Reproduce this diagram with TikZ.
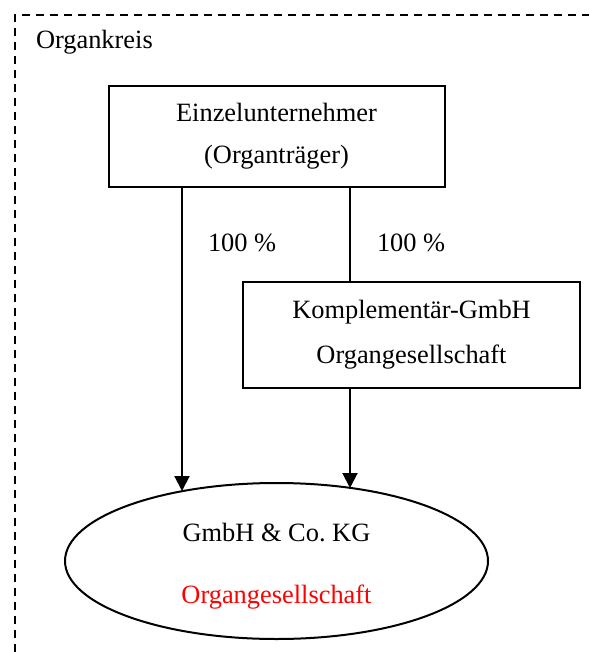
\documentclass[tikz,border=0pt]{standalone}
\usepackage{fontspec}
\setmainfont{Liberation Serif}
\usetikzlibrary{shapes.geometric,arrows.meta}

\begin{document}
\begin{tikzpicture}[x=1pt,y=-1pt,
  line width=2pt,
  every node/.style={font=\fontsize{26.4}{42}\selectfont, inner sep=0pt},
  box/.style={draw, rectangle, align=center},
  arr/.style={-{Triangle[width=15pt,length=15pt]}},
  frame/.style={dash pattern=on 8pt off 6pt}]

  \useasboundingbox (0,0) rectangle (589,652);

  % dashed boundary of the Organkreis (open to the right and bottom)
  \draw[frame] (15.3,652) -- (15.3,14.7) -- (589,14.7);
  \node[anchor=base west] (kreis) at (35,48.5) {Organkreis};

  % entities
  \node[box, minimum width=336pt, minimum height=101pt] (eu) at (276.5,136.5)
    {Einzelunternehmer\\(Organträger)};
  \node[box, minimum width=337pt, minimum height=106pt,
        font=\fontsize{26.4}{45}\selectfont] (kg) at (411.5,335)
    {Komplementär-GmbH\\Organgesellschaft};
  \node[draw, ellipse, minimum width=423pt, minimum height=156pt] (co) at (276.5,561) {};
  \node[anchor=base] (co1) at (276.5,541.7) {GmbH \& Co.\ KG};
  \node[anchor=base, text=red] (co2) at (276.5,603) {Organgesellschaft};

  % where the vertical connectors meet the ellipse
  \coordinate (e1) at (182,491);
  \coordinate (e2) at (350,488);

  % shareholdings
  \draw[arr] (eu.south -| e1) -- (e1);
  \draw (eu.south -| e2) -- (kg.north -| e2);
  \draw[arr] (kg.south -| e2) -- (e2);

  \node[anchor=base west] (p1) at (207,251) {100 \%};
  \node[anchor=base west] (p2) at (376,251) {100 \%};
\end{tikzpicture}
\end{document}
